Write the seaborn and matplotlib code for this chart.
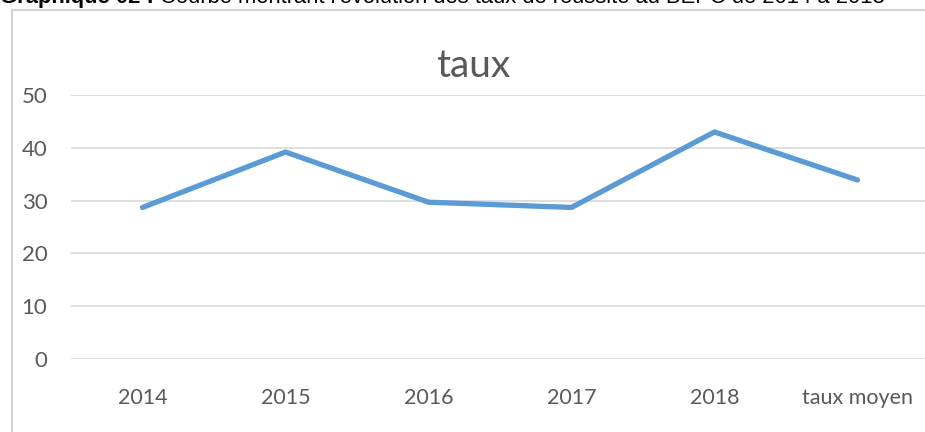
import matplotlib
matplotlib.use("Agg")
import matplotlib.pyplot as plt
import seaborn as sns
import pandas as pd
from matplotlib.patches import Rectangle

categories = ["2014", "2015", "2016", "2017", "2018", "taux moyen"]
taux = [28.7, 39.2, 29.7, 28.7, 43.0, 33.9]
y_ticks = [0, 10, 20, 30, 40, 50]
chart_title = "taux"
caption_bold = "Graphique 02 :"
caption_rest = " Courbe montrant l'évolution des taux de réussite au BEPC de 2014 à 2018"

sns.set_theme(style="white")
plt.rcParams["font.family"] = ["Lato", "DejaVu Sans"]

W, H = 925, 432
fig = plt.figure(figsize=(W / 100, H / 100), dpi=100)
fig.patch.set_facecolor("white")

# chart frame (extends beyond right and bottom of the image)
frame = Rectangle((12 / W, -0.2), 1.2, 1 - 10 / H + 0.2, transform=fig.transFigure,
                  facecolor="none", edgecolor="#d4d4d4", linewidth=1.6, zorder=-1)
fig.patches.append(frame)

ax = fig.add_axes([71 / W, 1 - 359 / H, 858 / W, (359 - 95) / H])
ax.set_facecolor("none")

df = pd.DataFrame({"cat": categories, "taux": taux})
sns.lineplot(data=df, x="cat", y="taux", sort=False, ax=ax, color="#5B9BD5",
             linewidth=3.8, solid_capstyle="round", solid_joinstyle="round", zorder=3)

ax.set_xlim(-0.5, len(categories) - 0.5)
ax.set_ylim(0, 50)
ax.set_yticks(y_ticks)
ax.set_yticklabels([str(v) for v in y_ticks], fontsize=16, color="#595959")
ax.set_xticks(range(len(categories)))
ax.set_xticklabels(categories, fontsize=15.5, color="#595959")
ax.tick_params(axis="both", length=0)
ax.tick_params(axis="y", pad=17)
ax.tick_params(axis="x", pad=21)
ax.grid(axis="y", color="#d9d9d9", linewidth=1.2)
ax.grid(axis="x", visible=False)
for s in ax.spines.values():
    s.set_visible(False)
ax.set_xlabel("")
ax.set_ylabel("")

fig.text(473 / W, 1 - 77 / H, chart_title, ha="center", va="baseline",
         fontsize=28, color="#595959")

# caption, partly cut by the top edge as in the reference
t1 = fig.text(0 / W, 1 - 3 / H, caption_bold, ha="left", va="baseline",
              fontsize=15.8, fontweight="bold", color="black",
              fontfamily=["Liberation Sans", "DejaVu Sans"])
fig.canvas.draw()
bb = t1.get_window_extent()
fig.text(bb.x1 / W, 1 - 3 / H, caption_rest, ha="left", va="baseline",
         fontsize=15.8, color="black",
         fontfamily=["Liberation Sans", "DejaVu Sans"])

fig.savefig("out.png", dpi=100, facecolor="white")
